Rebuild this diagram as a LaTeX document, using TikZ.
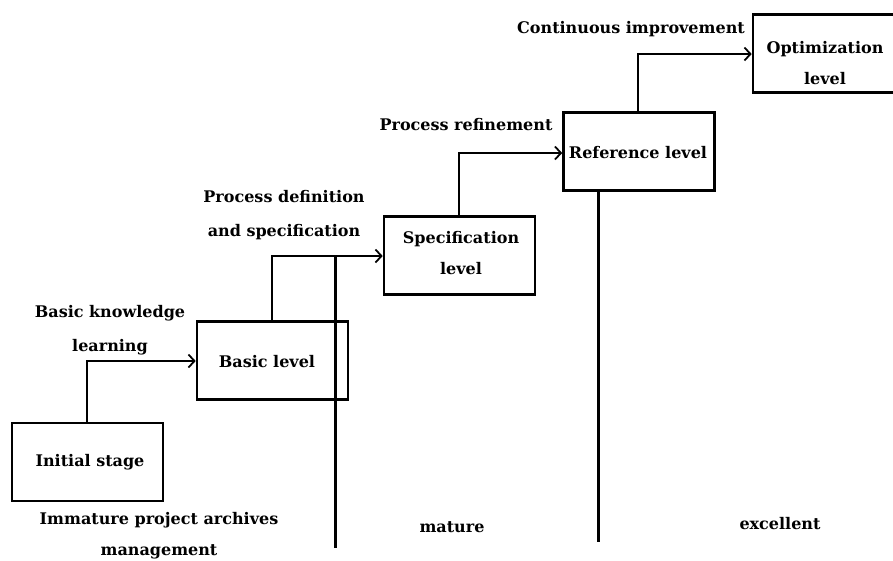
\documentclass[tikz,border=0pt]{standalone}
\usepackage{fontspec}
\setmainfont{DejaVu Serif}
\usetikzlibrary{arrows.meta}
\begin{document}
\begin{tikzpicture}[x=1pt,y=-1pt,
  every node/.style={font=\bfseries\fontsize{16}{31}\selectfont, inner sep=0pt},
  levelbox/.style={draw, line width=2.6pt, minimum width=151pt, minimum height=78pt},
  lbl/.style={align=center},
  wide/.style={font=\bfseries\fontsize{16}{33.5}\selectfont},
  conn/.style={line width=1.8pt, -{Straight Barb[length=6pt,width=13pt,line width=1.8pt]}},
  divider/.style={line width=3pt}]
\clip (0,0) rectangle (893,560);
\fill[white] (0,0) rectangle (893,560);
% boxes
\node[levelbox] (init) at (87.5,462) {};
\node[levelbox] (basic) at (272.5,360.5) {};
\node[levelbox] (spec) at (459.5,255.5) {};
\node[levelbox] (ref) at (639,151.5) {};
\node[levelbox] (opt) at (828.5,53.5) {};
% box texts
\node (tinit) at (90,462) {Initial stage};
\node (tbasic) at (267,362) {Basic level};
\node[lbl] (tspec) at (461,253) {Specification\\level};
\node (tref) at (638,153) {Reference level};
\node[lbl] (topt) at (825,63) {Optimization\\level};
% connectors
\coordinate (c1) at (87,361);
\coordinate (c2) at (272,256);
\coordinate (c3) at (459,153);
\coordinate (c4) at (638,54);
\draw[conn] (init.north -| c1) |- (basic.west |- c1);
\draw[conn] (basic.north -| c2) |- (spec.west |- c2);
\draw[conn] (spec.north -| c3) |- (ref.west |- c3);
\draw[conn] (ref.north -| c4) |- (opt.west |- c4);
% dividers
\coordinate (d1t) at (335,256);
\coordinate (d1b) at (335,548);
\coordinate (d2b) at (598,542);
\draw[divider] (d1t) -- (d1b);
\draw[divider] (ref.south -| d2b) -- (d2b);
% labels
\node[lbl,wide] (l1) at (110,330) {Basic knowledge\\learning};
\node[lbl,wide] (l2) at (284,215) {Process definition\\and specification};
\node (l3) at (466,125) {Process refinement};
\node (l4) at (631,29) {Continuous improvement};
\node[lbl] (l5) at (159,536) {Immature project archives\\management};
\node (l6) at (452,527) {mature};
\node (l7) at (780,524) {excellent};
\end{tikzpicture}
\end{document}
